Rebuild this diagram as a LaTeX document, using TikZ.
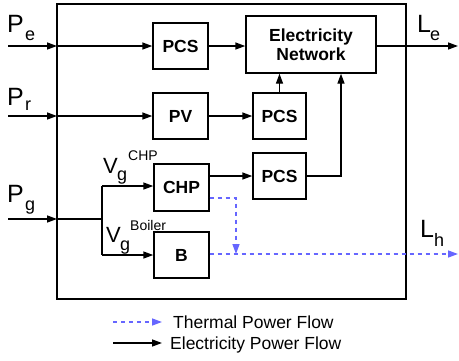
\documentclass[tikz,border=0pt]{standalone}
\usepackage{fontspec}
\setmainfont{Liberation Sans}
\usetikzlibrary{arrows.meta,calc}
\definecolor{heatblue}{RGB}{102,102,255}
\begin{document}
\begin{tikzpicture}[x=1pt,y=-1pt,
 box/.style={draw,line width=1.4pt,minimum width=55pt,minimum height=46pt,inner sep=0pt,font=\fontsize{17.5}{19.5}\selectfont\bfseries},
 flow/.style={line width=1.4pt,-{Triangle[length=10pt,width=7pt]}},
 heat/.style={line width=1.4pt,draw=heatblue,dash pattern=on 4pt off 4pt,-{Triangle[length=10pt,width=7pt,fill=heatblue]}},
 big/.style={font=\fontsize{25}{25}\selectfont,inner sep=0pt,anchor=base west},
 mid/.style={font=\fontsize{22}{22}\selectfont,inner sep=0pt,anchor=base west},
 sub/.style={font=\fontsize{18}{18}\selectfont,inner sep=0pt,anchor=base west},
 sup/.style={font=\fontsize{14}{14}\selectfont,inner sep=0pt,anchor=base west},
 leg/.style={font=\fontsize{17.5}{17.5}\selectfont,inner sep=0pt,anchor=base west},
]
\useasboundingbox (0,0) rectangle (459,360);
% outer system box
\node[draw,line width=1.4pt,minimum width=349pt,minimum height=295pt,inner sep=0pt] (sys) at (231.5,151.5) {};
% boxes
\node[box] (pcs1) at (180.5,46) {PCS};
\node[box] (pv) at (180.5,116) {PV};
\node[box,minimum width=130pt,minimum height=57pt,align=center] (en) at (311,44.5) {Electricity\\Network};
\node[box,minimum width=53pt] (pcs2) at (279.5,116) {PCS};
\node[box,minimum width=53pt] (pcs3) at (279.5,176) {PCS};
\node[box,minimum height=47pt] (chp) at (181.5,187.5) {CHP};
\node[box] (b) at (181.5,255) {B};
% inputs
\coordinate (pe0) at (8,46); \coordinate (pe1) at (57,46);
\coordinate (pr0) at (8,116); \coordinate (pr1) at (57,116);
\coordinate (pg0) at (8,219); \coordinate (pg1) at (57,219);
\coordinate (br) at (102,219);
\coordinate (bt) at (102,186); \coordinate (bb) at (102,255);
\draw[flow] (pe0) -- (pe1);
\draw[flow] (pe1) -- (pcs1.west);
\draw[flow] (pr0) -- (pr1);
\draw[flow] (pr1) -- (pv.west);
\draw[flow] (pg0) -- (pg1);
\draw[line width=1.4pt] (pg1) -- (br);
\draw[line width=1.4pt] (bt) -- (bb);
\draw[flow] (bt) -- (bt -| chp.west);
\draw[flow] (bb) -- (b.west);
% internal electricity
\draw[flow] (pcs1.east) -- (pcs1.east -| en.west);
\draw[flow] (pv.east) -- (pcs2.west);
\draw[flow] (pcs2.north) -- (pcs2.north |- en.south);
\draw[flow] (chp.east |- pcs3.west) -- (pcs3.west);
\coordinate (k) at ($(en.south)+(30,0)$);
\draw[flow] (pcs3.east) -| (k);
\coordinate (le) at (458,46);
\draw[flow] (en.east |- le) -- (le);
% heat
\coordinate (hc) at (236,254);
\draw[heat] ($(chp.east)+(0,10.5)$) -| (hc);
\coordinate (lh) at (458,254);
\draw[heat] (b.east |- lh) -- (lh);
% labels
\node[big] (lpe) at (7,32) {P}; \node[sub] (lpes) at (25,40) {e};
\node[big] (lpr) at (7,105) {P}; \node[sub] (lprs) at (25,110) {r};
\node[big] (lpg) at (7,202) {P}; \node[sub] (lpgs) at (25,210) {g};
\node[big] (lle) at (417,32) {L}; \node[sub] (lles) at (430,40) {e};
\node[big] (llh) at (420,237) {L}; \node[sub] (llhs) at (434,246) {h};
\node[mid] (v1) at (103,173) {V}; \node[sub] (v1s) at (117,180) {g}; \node[sup] (v1p) at (128,160) {CHP};
\node[mid] (v2) at (106,242) {V}; \node[sub] (v2s) at (120,250) {g}; \node[sup] (v2p) at (130,230) {Boiler};
% legend
\coordinate (t0) at (113,322); \coordinate (t1) at (162,322);
\coordinate (e0) at (113,343); \coordinate (e1) at (162,343);
\draw[heat] (t0) -- (t1);
\draw[flow] (e0) -- (e1);
\node[leg] (lt) at (173,328) {Thermal Power Flow};
\node[leg] (lel) at (170,349) {Electricity Power Flow};
\end{tikzpicture}
\end{document}
